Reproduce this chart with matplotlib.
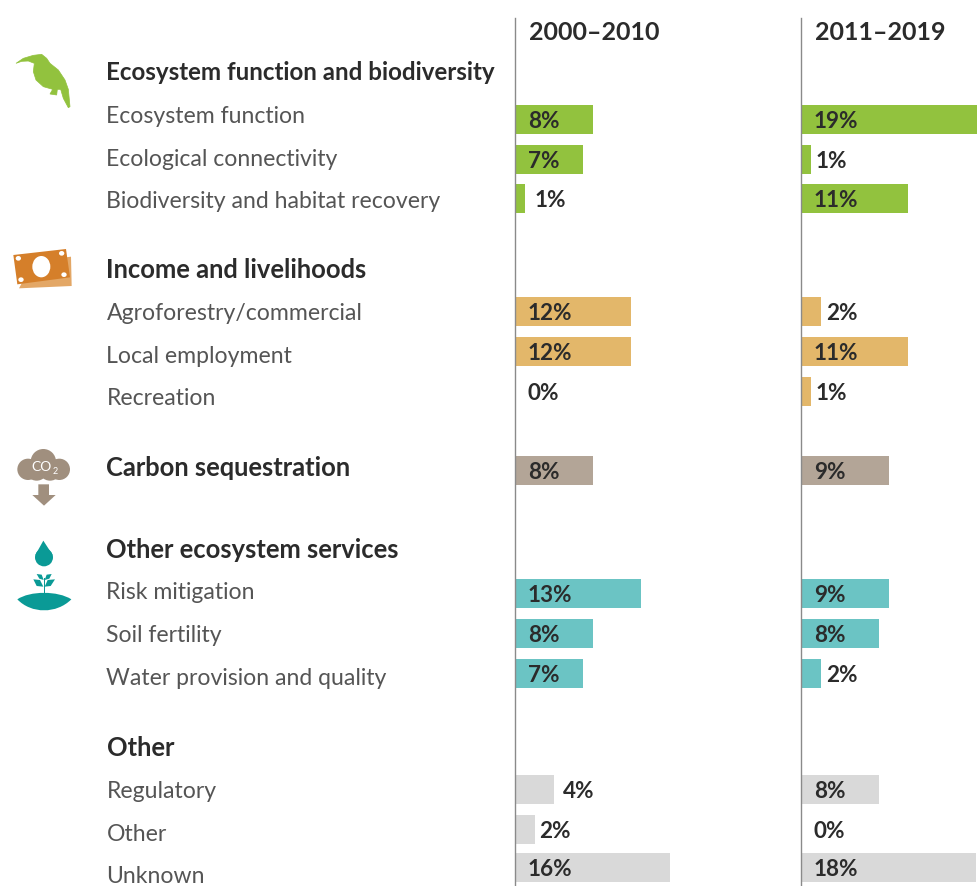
import matplotlib
matplotlib.use("Agg")
import matplotlib.pyplot as plt
from matplotlib.patches import Polygon, Ellipse, Circle, Rectangle, PathPatch
from matplotlib.path import Path

plt.rcParams['font.family'] = ['Lato', 'DejaVu Sans']

W, H = 978, 886

# ---- data ----
periods = ["2000–2010", "2011–2019"]
group_names = ["Ecosystem function and biodiversity", "Income and livelihoods",
               "Carbon sequestration", "Other ecosystem services", "Other"]
categories = ["Ecosystem function", "Ecological connectivity", "Biodiversity and habitat recovery",
              "Agroforestry/commercial", "Local employment", "Recreation",
              "Carbon sequestration",
              "Risk mitigation", "Soil fertility", "Water provision and quality",
              "Regulatory", "Other", "Unknown"]
values_2000 = [8, 7, 1, 12, 12, 0, 8, 13, 8, 7, 4, 2, 16]
values_2011 = [19, 1, 11, 2, 11, 1, 9, 9, 8, 2, 8, 0, 18]
colour_keys = ["g", "g", "g", "o", "o", "o", "t", "c", "c", "c", "x", "x", "x"]

# ---- layout / style ----
palette = {"g": "#92C23E", "o": "#E3B76A", "t": "#B3A597", "c": "#6BC4C4", "x": "#D9D9D9"}
bar_y = [119, 159, 198, 311, 351, 391, 470, 593, 633, 673, 789, 829, 867]
label_y = [116.5, 159.5, 201.5, 313.5, 356.5, 398.5, None, 592.5, 635.5, 678.5, 791.5, 834.5, 876.5]
group_y = [72, 269.5, 467.5, 549.5, 748.5]
group_size = [17.4, 18.4, 18.4, 18.4, 18.4]
BAR_H = 29
AX_TOP = 18
panels = [(515.5, values_2000, 9.66, {1: 9, 2: 4, 4: 9}), (801.5, values_2011, 9.70, {1: 4, 2: 5})]
DARK = "#2b2b2b"
GREY = "#555555"
AXIS = "#8a8a8a"

fig = plt.figure(figsize=(W / 100, H / 100), dpi=100, facecolor="white")
bg = fig.add_axes([0, 0, 1, 1])
bg.set_xlim(0, W); bg.set_ylim(H, 0); bg.axis("off")

# text labels
for name, y, fs in zip(group_names, group_y, group_size):
    bg.text(106.5, y, name, fontsize=fs, fontweight="bold", color=DARK, va="center", ha="left")
for name, y in zip(categories, label_y):
    if y is not None:
        bg.text(106.5, y, name, fontsize=16.6, color=GREY, va="center", ha="left")

# bars
for (x0, vals, scale, gaps), period in zip(panels, periods):
    axw = W - x0
    ax = fig.add_axes([x0 / W, 0, axw / W, (H - AX_TOP) / H])
    ax.patch.set_alpha(0)
    ax.set_xlim(0, axw / scale)
    ax.set_ylim(H - 1, AX_TOP - 1)
    ax.barh(bar_y, vals, height=BAR_H, color=[palette[k] for k in colour_keys], linewidth=0)
    for s in ("top", "right", "bottom"):
        ax.spines[s].set_visible(False)
    ax.spines["left"].set_color(AXIS)
    ax.spines["left"].set_linewidth(1.0)
    ax.set_xticks([]); ax.set_yticks([])
    for y, v in zip(bar_y, vals):
        outside = v in gaps
        dx = gaps[v] if outside else 12.5
        xpos = v if outside else 0
        ax.annotate(f"{v}%", (xpos, y), xytext=(dx * 0.72, -1.0), textcoords="offset points",
                    fontsize=16.2, fontweight="bold", color=DARK, va="center", ha="left",
                    annotation_clip=False)
    ax.annotate(period, (0, 30), xytext=(14 * 0.72, -1.0), textcoords="offset points",
                fontsize=18, fontweight="bold", color=DARK, va="center", ha="left",
                annotation_clip=False)


def zp(pts, ox, oy):
    return [(ox + a / 3, oy + b / 3) for a, b in pts]


# bird icon
GREEN = "#92C23E"
bird = [(48, 100), (70, 85), (100, 76), (125, 73), (140, 85), (150, 100), (175, 120), (195, 150),
        (205, 178), (210, 230), (205, 233), (190, 205), (182, 178), (172, 178), (170, 195),
        (150, 192), (158, 178), (130, 170), (108, 150), (100, 125), (103, 100), (85, 93), (65, 94)]
bg.add_patch(Polygon(zp(bird, 0, 30), closed=True, fc=GREEN, ec=GREEN, lw=0.5))

# money icon
bg.add_patch(Polygon(zp([(57, 160), (215, 153), (213, 65), (100, 80)], 0, 235), fc="#E3A766", lw=0))
bg.add_patch(Polygon(zp([(40, 60), (198, 42), (210, 127), (52, 148)], 0, 235), fc="#D57F2A", lw=0))
bg.add_patch(Ellipse((124 / 3, 235 + 95 / 3), 54 / 3, 64 / 3, fc="white", lw=0))
for a, b in [(55, 70), (185, 55), (63, 134), (192, 119)]:
    bg.add_patch(Ellipse((a / 3, 235 + b / 3), 16 / 3, 14 / 3, fc="white", lw=0))

# CO2 icon
TAUPE = "#A08F7E"
for a, b, r in [(84, 88, 32), (130, 65, 38), (178, 88, 32), (110, 88, 34), (150, 88, 34)]:
    bg.add_patch(Circle((a / 3, 440 + b / 3), r / 3, fc=TAUPE, lw=0))
bg.text(42, 467, "CO", fontsize=10, color="white", ha="center", va="center")
bg.text(55, 471, "2", fontsize=6.5, color="white", ha="center", va="center")
bg.add_patch(Polygon(zp([(115, 133), (147, 133), (147, 165), (167, 165), (132, 197), (97, 165), (115, 165)], 0, 440),
                     fc=TAUPE, lw=0))

# water + plant icon
TEAL = "#0A9A96"
oy = 440
bg.add_patch(Circle((132 / 3, oy + 352 / 3), 27 / 3, fc=TEAL, lw=0))
bg.add_patch(Polygon(zp([(130, 302), (106, 345), (158, 345)], 0, oy), fc=TEAL, lw=0))
bg.add_patch(Rectangle((131 / 3, oy + 415 / 3), 4 / 3, 45 / 3, fc=TEAL, lw=0))
for leaf in ([(100, 418), (120, 420), (130, 440), (110, 438)],
             [(165, 418), (143, 420), (134, 440), (152, 438)],
             [(110, 402), (125, 404), (131, 420), (118, 416)],
             [(155, 402), (140, 404), (134, 420), (148, 416)]):
    bg.add_patch(Polygon(zp(leaf, 0, oy), fc=TEAL, lw=0))
g = zp([(52, 478), (90, 452), (174, 452), (214, 478), (170, 522), (94, 522), (52, 478)], 0, oy)
bg.add_patch(PathPatch(Path(g, [Path.MOVETO] + [Path.CURVE4] * 6), fc=TEAL, lw=0))

fig.savefig("out.png", dpi=100)
